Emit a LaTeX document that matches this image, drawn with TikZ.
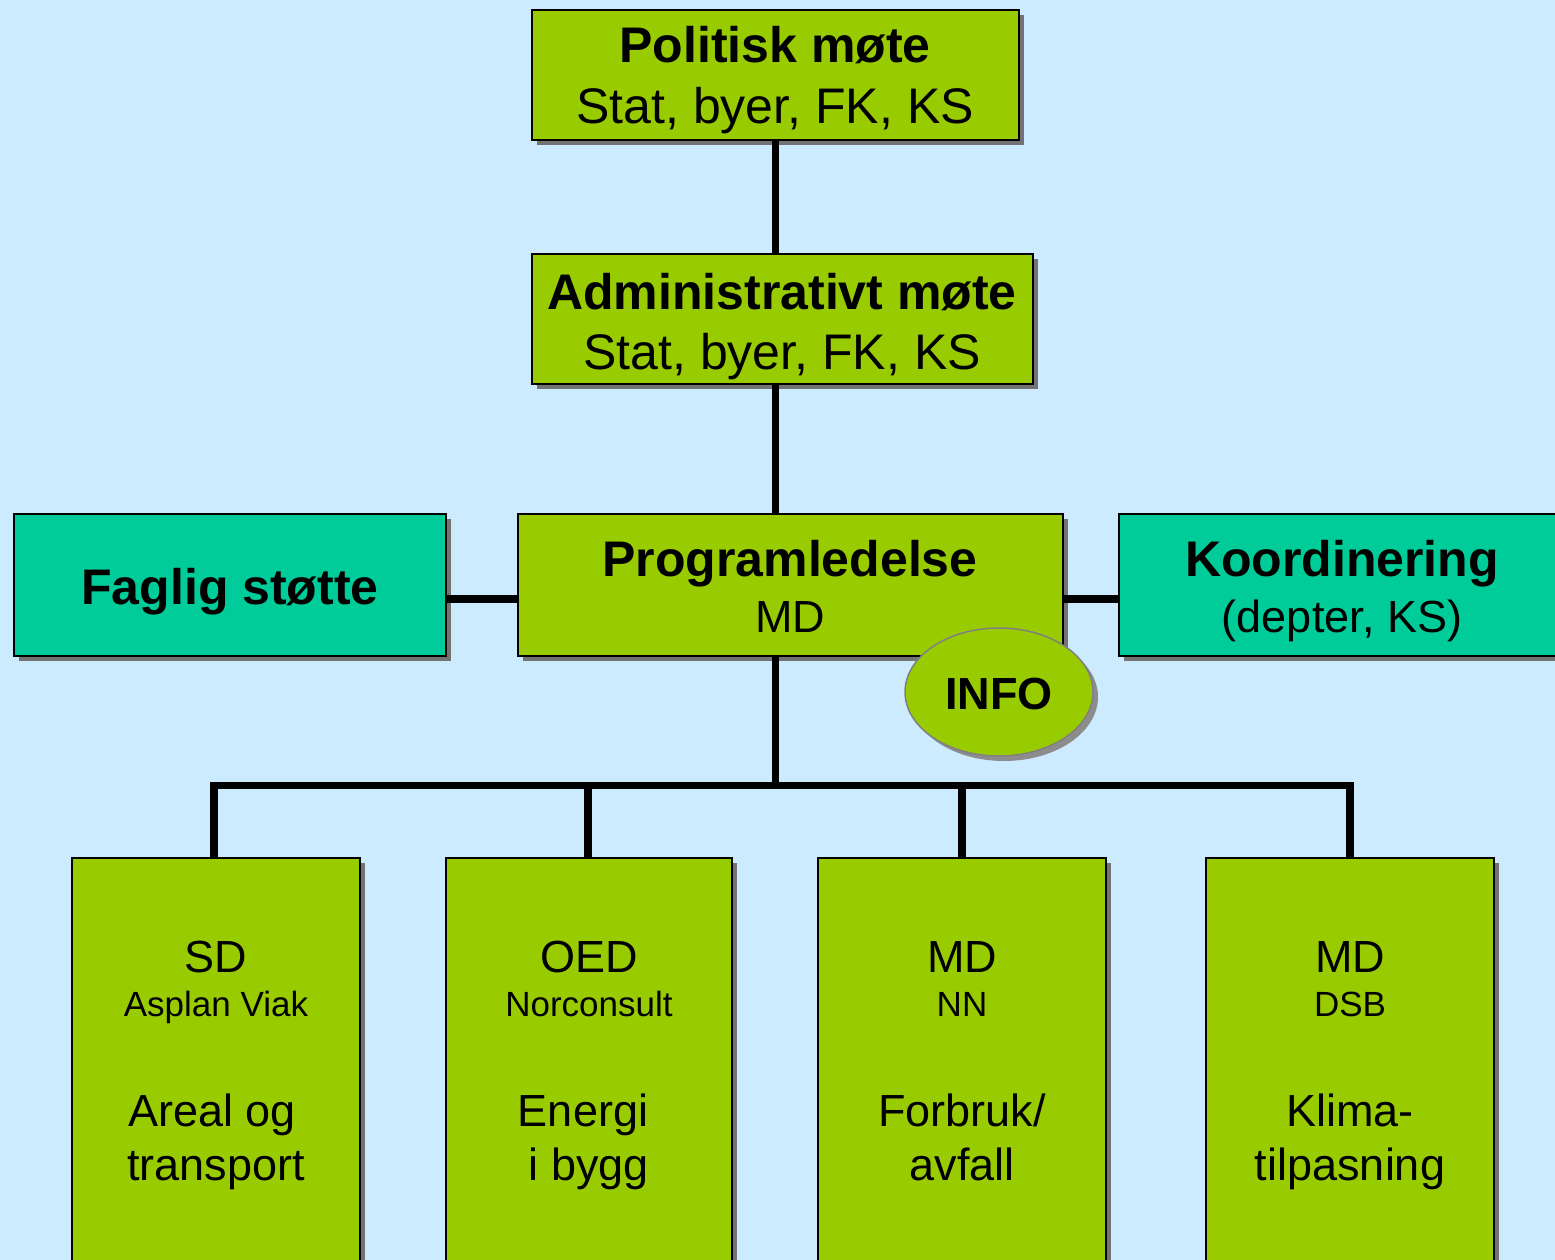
\documentclass[tikz,border=0pt]{standalone}
\usepackage{fontspec}
\setmainfont{Liberation Sans}
\usetikzlibrary{shadows,shapes.geometric}
\definecolor{bgblue}{HTML}{CCEBFF}
\definecolor{lgreen}{HTML}{99CC00}
\definecolor{teal2}{HTML}{00CC99}
\newcommand{\fsT}{\fontsize{50}{60}\selectfont}
\newcommand{\fsM}{\fontsize{45}{54}\selectfont}
\newcommand{\fsS}{\fontsize{35}{42}\selectfont}
\tikzset{
  boxbase/.style={draw=black, line width=1.5pt, inner sep=0pt,
    drop shadow={shadow xshift=5pt, shadow yshift=-5pt, fill=black!55, opacity=1}},
  gbox/.style={boxbase, fill=lgreen},
  tbox/.style={boxbase, fill=teal2},
  txt/.style={anchor=base, inner sep=0pt, text=black},
  conn/.style={line width=7.5pt, black},
}
\begin{document}
\begin{tikzpicture}[x=1pt,y=-1pt]
\fill[bgblue] (0,0) rectangle (1555,1260);
\useasboundingbox (0,0) rectangle (1555,1260);

% top boxes
\node[gbox, minimum width=487pt, minimum height=130pt] (pol) at (775.5,75) {};
\node[gbox, minimum width=501pt, minimum height=130pt] (adm) at (782.5,319) {};
\node[gbox, minimum width=545pt, minimum height=142pt] (prog) at (790.5,585) {};
\node[tbox, minimum width=432pt, minimum height=142pt] (fag) at (230,585) {};
\node[tbox, minimum width=450pt, minimum height=142pt] (koord) at (1344,585) {};

% bottom boxes
\node[gbox, minimum width=288pt, minimum height=420pt] (b1) at (216,1068) {};
\node[gbox, minimum width=286pt, minimum height=420pt] (b2) at (589,1068) {};
\node[gbox, minimum width=288pt, minimum height=420pt] (b3) at (962,1068) {};
\node[gbox, minimum width=288pt, minimum height=420pt] (b4) at (1350,1068) {};

% connectors
\coordinate (bus) at (775.5,785.5);
\draw[conn] (bus |- pol.south) -- (bus |- adm.north);
\draw[conn] (bus |- adm.south) -- (bus |- prog.north);
\draw[conn] (bus |- prog.south) -- (bus);
\draw[conn, line cap=rect] ([xshift=-2pt]b1.north |- bus) -- (b4.north |- bus);
\draw[conn] ([xshift=-2pt]b1.north |- bus) -- ([xshift=-2pt]b1.north);
\draw[conn] ([xshift=-1pt]b2.north |- bus) -- ([xshift=-1pt]b2.north);
\draw[conn] (b3.north |- bus) -- (b3.north);
\draw[conn] (b4.north |- bus) -- (b4.north);
\draw[conn] ([yshift=-14pt]fag.east) -- ([yshift=-14pt]fag.east -| prog.west);
\draw[conn] ([yshift=-14pt]prog.east) -- ([yshift=-14pt]prog.east -| koord.west);

% INFO
\node[ellipse, draw=black!50, line width=1.5pt, fill=lgreen, minimum width=188pt, minimum height=128pt, inner sep=0pt,
  drop shadow={shadow xshift=5pt, shadow yshift=-5pt, fill=black!45, opacity=1}] (info) at (999,692) {};
\node[txt] (infot) at (999,709) {\fsM\bfseries INFO};

% texts
\node[txt] (polt1) at (775,63) {\fsT\bfseries Politisk møte};
\node[txt] (polt2) at (775,124) {\fsT Stat, byer, FK, KS};
\node[txt] (admt1) at (782,309) {\fsT\bfseries Administrativt møte};
\node[txt] (admt2) at (782,369) {\fsT Stat, byer, FK, KS};
\node[txt] (progt1) at (790,576) {\fsT\bfseries Programledelse};
\node[txt] (progt2) at (790,632) {\fsM MD};
\node[txt] (fagt) at (230,604) {\fsT\bfseries Faglig støtte};
\node[txt] (koordt1) at (1342,576) {\fsT\bfseries Koordinering};
\node[txt] (koordt2) at (1342,632) {\fsM (depter, KS)};

\node[txt] (b1a) at (216,972) {\fsM SD};
\node[txt] (b1b) at (216,1016) {\fsS Asplan Viak};
\node[txt] (b1c) at (212,1126) {\fsM Areal og};
\node[txt] (b1d) at (216,1180) {\fsM transport};

\node[txt] (b2a) at (589,972) {\fsM OED};
\node[txt] (b2b) at (589,1016) {\fsS Norconsult};
\node[txt] (b2c) at (583,1126) {\fsM Energi};
\node[txt] (b2d) at (589,1180) {\fsM i bygg};

\node[txt] (b3a) at (962,972) {\fsM MD};
\node[txt] (b3b) at (962,1016) {\fsS NN};
\node[txt] (b3c) at (962,1126) {\fsM Forbruk/};
\node[txt] (b3d) at (962,1180) {\fsM avfall};

\node[txt] (b4a) at (1350,972) {\fsM MD};
\node[txt] (b4b) at (1350,1016) {\fsS DSB};
\node[txt] (b4c) at (1350,1126) {\fsM Klima-};
\node[txt] (b4d) at (1350,1180) {\fsM tilpasning};
\end{tikzpicture}
\end{document}
